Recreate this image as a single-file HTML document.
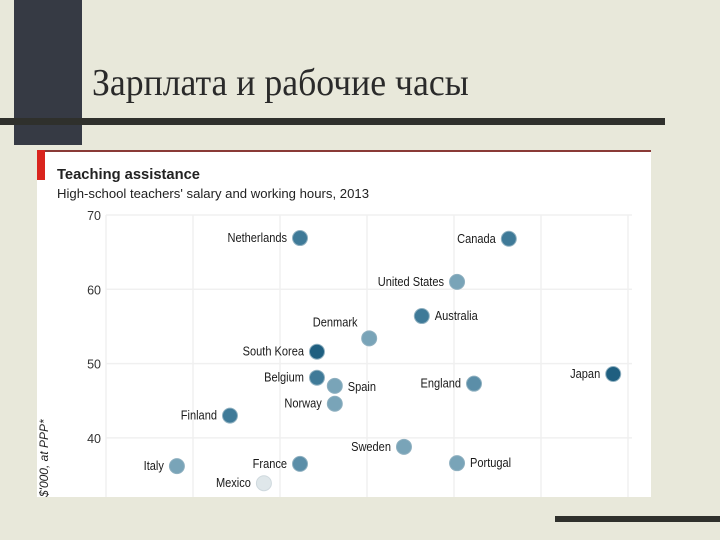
<!DOCTYPE html>
<html><head><meta charset="utf-8">
<style>
html,body{margin:0;padding:0;}
body{width:720px;height:540px;position:relative;overflow:hidden;background:#e8e8da;font-family:"Liberation Sans",sans-serif;}
.abs{position:absolute;}
</style></head>
<body>
<div class="abs" style="left:14px;top:0;width:68px;height:145px;background:#363a44;"></div>
<div class="abs" style="left:0;top:118px;width:665px;height:7px;background:#2f302c;"></div>
<div class="abs" style="left:92px;top:61px;font-family:'Liberation Serif',serif;font-size:38px;color:#2a2a2a;white-space:nowrap;transform:scaleX(0.94);transform-origin:left;">Зарплата и рабочие часы</div>
<div class="abs" style="left:555px;top:516px;width:165px;height:6px;background:#2f302c;"></div>

<svg class="abs" style="left:0;top:0;" width="720" height="540" viewBox="0 0 720 540">
  <defs><clipPath id="pc"><rect x="37" y="150" width="614" height="347"/></clipPath></defs>
  <rect x="37" y="150" width="614" height="347" fill="#ffffff"/>
  <rect x="37" y="150" width="614" height="2" fill="#8a3a36"/>
  <rect x="37" y="150" width="8" height="30" fill="#d9241d"/>
  <text x="57" y="179" font-size="15" font-weight="bold" fill="#222" textLength="143" lengthAdjust="spacingAndGlyphs">Teaching assistance</text>
  <text x="57" y="198" font-size="12.5" fill="#222" textLength="312" lengthAdjust="spacingAndGlyphs">High-school teachers' salary and working hours, 2013</text>
  <g id="grid" clip-path="url(#pc)"></g>
  <g id="marks" clip-path="url(#pc)"></g>
  <text transform="translate(48,497) rotate(-90)" font-size="12" font-style="italic" fill="#222">$'000, at PPP*</text>
</svg>

<script>
const countries=["Netherlands","Canada","United States","Australia","Denmark","South Korea","Japan","Belgium","Spain","England","Norway","Finland","Sweden","Italy","France","Portugal","Mexico"];
const hours=[1646,2126,2007,1926,1805,1685,2366,1685,1726,2046,1726,1485,1885,1363,1646,2007,1563];
const salary=[66.9,66.8,61.0,56.4,53.4,51.6,48.6,48.1,47.0,47.3,44.6,43.0,38.8,36.2,36.5,36.6,33.9];
const shade=[1,1,3,1,3,0,0,1,3,2,3,1,3,3,2,3,4];
const labelSide=["l","l","l","r","t","l","l","l","rb","l","l","l","l","l","l","r","l"];
const yTicks=[70,60,50,40,30];
const xTicks=[1200,1400,1600,1800,2000,2200,2400];
const colors=["#1f5f80","#3f7a98","#5b8ea8","#79a4b8","#dfe7ea"];
const x=v=>106+(v-1200)/200*87;
const y=v=>215+(70-v)*7.43;
const NS="http://www.w3.org/2000/svg";
const grid=document.getElementById('grid'),marks=document.getElementById('marks');
const svg=document.querySelector('svg');
function mk(t,a,p){const e=document.createElementNS(NS,t);for(const k in a)e.setAttribute(k,a[k]);p.appendChild(e);return e;}
yTicks.forEach(v=>{
  const l=mk('line',{x1:106,x2:632,y1:y(v),y2:y(v),stroke:'#f0f0f0','stroke-width':1.5},grid);
  
  
  if(v>=40){const t=mk('text',{x:101,y:y(v)+5,'text-anchor':'end','font-size':12.5,fill:'#333'},svg);
  t.textContent=v;
  
  }
});
xTicks.forEach(v=>{
  const l=mk('line',{x1:x(v),x2:x(v),y1:215,y2:500,stroke:'#f0f0f0','stroke-width':1.5},grid);
  
  
});
countries.forEach((c,i)=>{
  const cx=x(hours[i]),cy=y(salary[i]);
  const d=mk('circle',{cx:cx,cy:cy,r:7.5,fill:colors[shade[i]],stroke:shade[i]==4?'#cfd9de':'#8fb0c0','stroke-width':1},marks);
  
  
  let tx,ty,anc;
  const s=labelSide[i];
  if(s==='l'){tx=cx-13;ty=cy+4;anc='end';}
  else if(s==='r'){tx=cx+13;ty=cy+4;anc='start';}
  else if(s==='t'){tx=cx-34;ty=cy-12;anc='middle';}
  else {tx=cx+13;ty=cy+5;anc='start';}
  const t=mk('text',{x:tx,y:ty,'text-anchor':anc,'font-size':13,fill:'#1a1a1a',transform:`translate(${tx},0) scale(0.85,1) translate(${-tx},0)`},marks);
  t.textContent=c;
  
  
});
</script>
</body></html>
